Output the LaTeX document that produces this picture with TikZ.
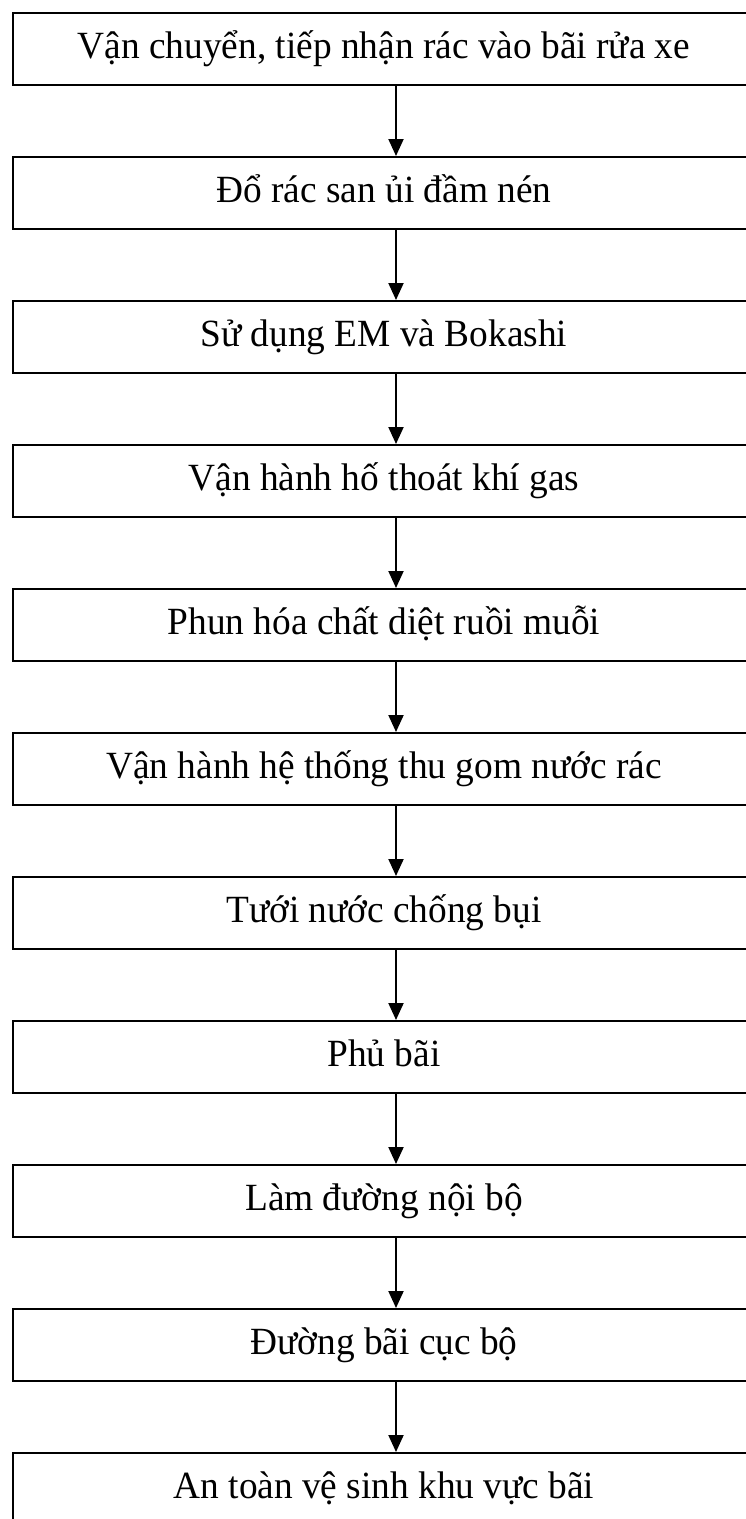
\documentclass[tikz,border=0pt]{standalone}
\usepackage{fontspec}
\setmainfont{Liberation Serif}[FakeStretch=0.97]
\usetikzlibrary{arrows.meta}
\begin{document}
\begin{tikzpicture}[x=1pt,y=1pt,
  stepbox/.style={draw=black,line width=2pt,rectangle,minimum width=742pt,minimum height=71.5pt,inner sep=0pt,
    text height=28pt,text depth=9.5pt,font=\fontsize{38.5}{44}\selectfont},
  flowarrow/.style={line width=2pt,-{Triangle[length=17pt,width=15pt]}}]
\useasboundingbox (0,0) rectangle (746,-1519);
\clip (0,0) rectangle (746,-1519);
\coordinate (ax) at (396,0);
\foreach \i/\t in {0/{Vận chuyển, tiếp nhận rác vào bãi rửa xe},
                   1/{Đổ rác san ủi đầm nén},
                   2/{Sử dụng EM và Bokashi},
                   3/{Vận hành hố thoát khí gas},
                   4/{Phun hóa chất diệt ruồi muỗi},
                   5/{Vận hành hệ thống thu gom nước rác},
                   6/{Tưới nước chống bụi},
                   7/{Phủ bãi},
                   8/{Làm đường nội bộ},
                   9/{Đường bãi cục bộ},
                   10/{An toàn vệ sinh khu vực bãi}}
  {\node[stepbox] (b\i) at (384,{-48.75-144*\i}) {\t};}
\foreach \i [evaluate=\i as \j using int(\i+1)] in {0,...,9}
  {\draw[flowarrow] (b\i.south -| ax) -- (b\j.north -| ax);}
\end{tikzpicture}
\end{document}
